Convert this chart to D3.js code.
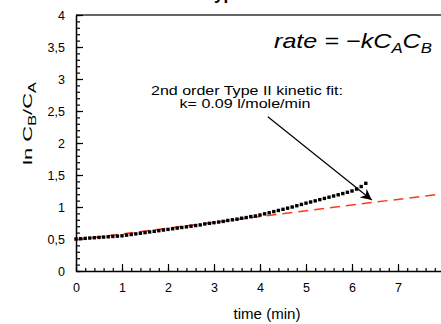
<!DOCTYPE html>
<html>
<head>
<meta charset="utf-8">
<script src="https://cdn.jsdelivr.net/npm/d3@7"></script>
<style>
  body { margin: 0; background: #fff; }
  svg { font-family: "Liberation Sans", Arial, sans-serif; display: block; }
</style>
</head>
<body>
<div class="canvas"></div>
<script>
const svgWidth = 441;
const svgHeight = 324;

// measured data, ln(CB/CA) every 0.1 min
const times = [0.0,0.1,0.2,0.3,0.4,0.5,0.6,0.7,0.8,0.9,
  1.0,1.1,1.2,1.3,1.4,1.5,1.6,1.7,1.8,1.9,
  2.0,2.1,2.2,2.3,2.4,2.5,2.6,2.7,2.8,2.9,
  3.0,3.1,3.2,3.3,3.4,3.5,3.6,3.7,3.8,3.9,
  4.0,4.1,4.2,4.3,4.4,4.5,4.6,4.7,4.8,4.9,
  5.0,5.1,5.2,5.3,5.4,5.5,5.6,5.7,5.8,5.9,
  6.0,6.1,6.2,6.3];
const lnRatio = [0.50,0.505,0.51,0.515,0.52,0.525,0.53,0.535,0.54,0.545,
  0.55,0.56,0.57,0.58,0.59,0.60,0.61,0.62,0.63,0.64,
  0.65,0.66,0.67,0.68,0.69,0.70,0.71,0.72,0.735,0.745,
  0.755,0.765,0.775,0.79,0.80,0.81,0.825,0.835,0.85,0.86,
  0.875,0.893,0.91,0.928,0.946,0.964,0.982,1.0,1.02,1.04,
  1.06,1.078,1.096,1.115,1.134,1.153,1.172,1.191,1.21,1.23,
  1.25,1.28,1.32,1.37];

// kinetic fit line
const fitTimes = [0, 8];
const fitValues = [0.49, 1.21];

const xTicks = [0, 1, 2, 3, 4, 5, 6, 7];
const yTicks = [0, 0.5, 1, 1.5, 2, 2.5, 3, 3.5, 4];

const x = d3.scaleLinear().domain([0, 8]).range([76, 444]);
const y = d3.scaleLinear().domain([0, 4]).range([271, 15]);

const svg = d3.select('.canvas')
  .append('svg')
    .attr('width', svgWidth)
    .attr('height', svgHeight);

const fmt = d => String(d).replace('.', ',');

// title (mostly cut off above the frame)
svg.append('text')
  .attr('x', 205)
  .attr('y', 0)
  .attr('font-size', 17)
  .attr('font-weight', 'bold')
  .text('Type II');

// top frame line
svg.append('line')
  .attr('x1', x(0)).attr('x2', svgWidth)
  .attr('y1', y(4)).attr('y2', y(4))
  .attr('stroke', '#666')
  .attr('stroke-width', 2);

// minor ticks
const yMinor = d3.range(0, 4.001, 0.1);
const xMinor = d3.range(0, 7.9, 0.2);

svg.append('g')
  .attr('transform', `translate(${x(0)},0)`)
  .call(d3.axisLeft(y).tickValues(yMinor).tickSize(-4).tickFormat(''))
  .call(g => g.select('.domain').remove());

svg.append('g')
  .attr('transform', `translate(0,${y(0)})`)
  .call(d3.axisBottom(x).tickValues(xMinor).tickSize(-3).tickFormat(''))
  .call(g => g.select('.domain').remove());

// major axes
const yAxisGroup = svg.append('g')
  .attr('transform', `translate(${x(0)},0)`)
  .call(d3.axisLeft(y).tickValues(yTicks).tickSize(-7).tickSizeOuter(0)
    .tickPadding(11).tickFormat(fmt));

const xAxisGroup = svg.append('g')
  .attr('transform', `translate(0,${y(0)})`)
  .call(d3.axisBottom(x).tickValues(xTicks).tickSize(-7).tickSizeOuter(0)
    .tickPadding(12).tickFormat(fmt));

svg.selectAll('.domain').attr('stroke-width', 1.5);
svg.selectAll('.tick line').attr('stroke-width', 1.2);
svg.selectAll('.tick text')
  .attr('font-size', 12.5)
  .attr('font-family', '"Liberation Sans", Arial, sans-serif');

// axis titles
svg.append('text')
  .attr('x', 267)
  .attr('y', 319)
  .attr('text-anchor', 'middle')
  .attr('font-size', 14)
  .attr('textLength', 67)
  .attr('lengthAdjust', 'spacingAndGlyphs')
  .text('time (min)');

const yLabel = svg.append('text')
  .attr('transform', 'translate(32,165) rotate(-90)')
  .attr('font-size', 13.5)
  .attr('textLength', 83)
  .attr('lengthAdjust', 'spacingAndGlyphs');
yLabel.append('tspan').text('ln C');
yLabel.append('tspan').attr('font-size', 10).attr('dy', 4).text('B');
yLabel.append('tspan').attr('dy', -4).text('/C');
yLabel.append('tspan').attr('font-size', 10).attr('dy', 4).text('A');

// fit line
const fitData = fitTimes.map((t, i) => ({ t, v: fitValues[i] }));
const line = d3.line()
  .x(d => x(d.t))
  .y(d => y(d.v));

svg.append('path')
  .datum(fitData)
  .attr('fill', 'none')
  .attr('stroke', '#ff3a1a')
  .attr('stroke-width', 1.5)
  .attr('stroke-dasharray', '10,6')
  .attr('d', line);

// data points
const data = times.map((t, i) => ({ t, v: lnRatio[i] }));
svg.selectAll('rect.pt')
  .data(data)
  .enter()
  .append('rect')
    .attr('class', 'pt')
    .attr('x', d => x(d.t) - 1.7)
    .attr('y', d => y(d.v) - 1.7)
    .attr('width', 3.4)
    .attr('height', 3.4)
    .attr('fill', '#000');

// equation
const eq = svg.append('text')
  .attr('x', 274)
  .attr('y', 48)
  .attr('font-size', 21)
  .attr('font-style', 'italic')
  .attr('textLength', 158)
  .attr('lengthAdjust', 'spacingAndGlyphs');
eq.append('tspan').text('rate = \u2212kC');
eq.append('tspan').attr('font-size', 14).attr('dy', 5).text('A');
eq.append('tspan').attr('dy', -5).text('C');
eq.append('tspan').attr('font-size', 14).attr('dy', 5).text('B');

// annotation
svg.append('text')
  .attr('x', 247)
  .attr('y', 94.5)
  .attr('text-anchor', 'middle')
  .attr('font-size', 13)
  .attr('textLength', 192)
  .attr('lengthAdjust', 'spacingAndGlyphs')
  .text('2nd order Type II kinetic fit:');
svg.append('text')
  .attr('x', 245)
  .attr('y', 107.5)
  .attr('text-anchor', 'middle')
  .attr('font-size', 13)
  .attr('textLength', 131)
  .attr('lengthAdjust', 'spacingAndGlyphs')
  .text('k= 0.09 l/mole/min');

svg.append('defs').append('marker')
  .attr('id', 'arrow')
  .attr('viewBox', '0 0 10 10')
  .attr('refX', 10).attr('refY', 5)
  .attr('markerWidth', 11).attr('markerHeight', 11)
  .attr('markerUnits', 'userSpaceOnUse')
  .attr('orient', 'auto')
  .append('path')
    .attr('d', 'M0,0 L10,5 L0,10 L3,5 Z')
    .attr('fill', '#000');

svg.append('line')
  .attr('x1', x(4.17)).attr('y1', y(2.41))
  .attr('x2', x(6.43)).attr('y2', y(1.11))
  .attr('stroke', '#000')
  .attr('stroke-width', 1.2)
  .attr('marker-end', 'url(#arrow)');
</script>
</body>
</html>
